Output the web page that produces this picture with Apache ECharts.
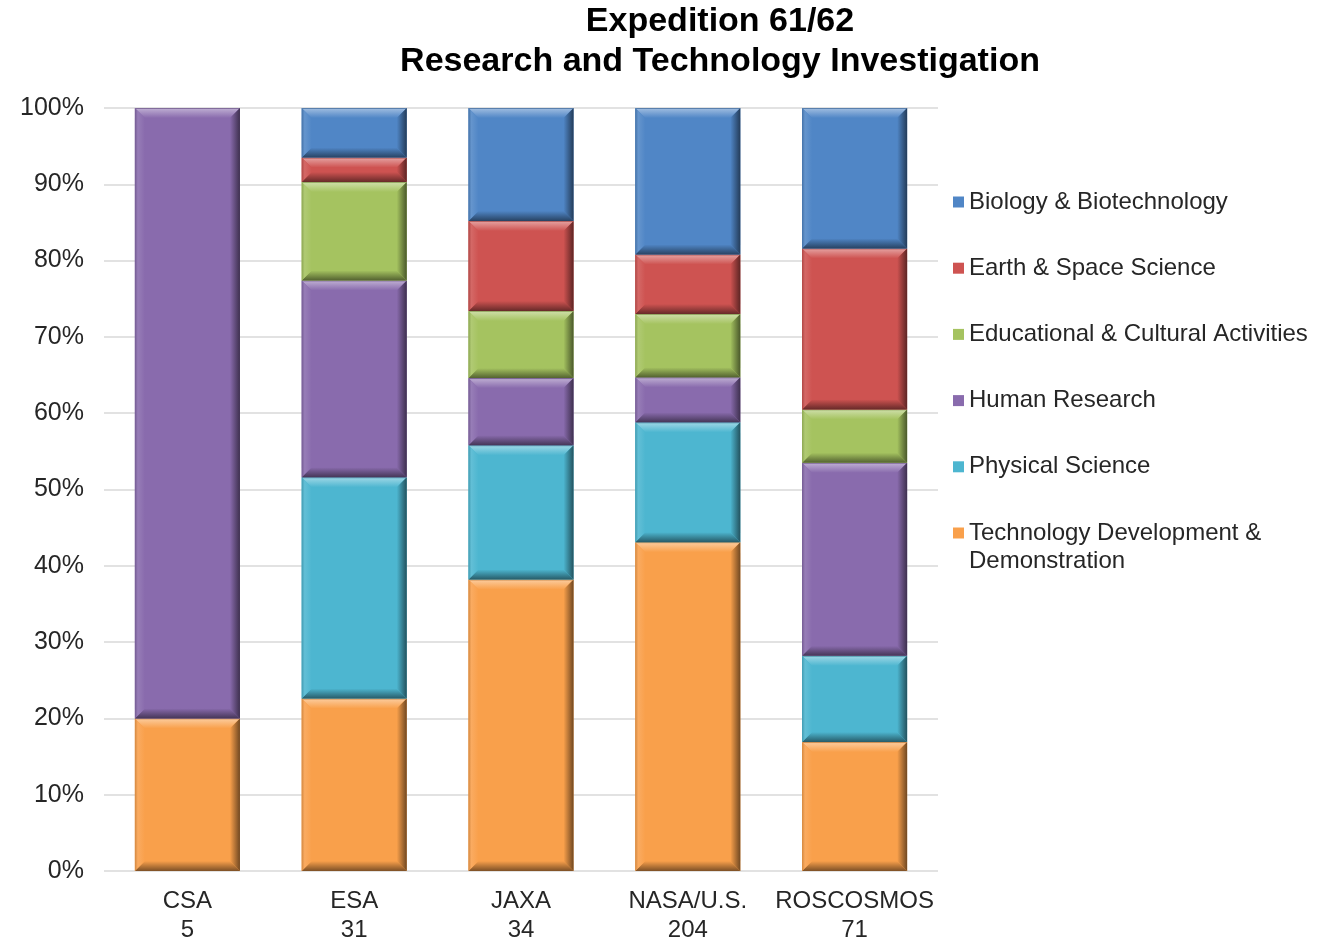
<!DOCTYPE html>
<html>
<head>
<meta charset="utf-8">
<script src="https://cdn.jsdelivr.net/npm/echarts@6/dist/echarts.min.js"></script>
<style>html,body{margin:0;padding:0;background:#fff}#c{width:1335px;height:942px}</style>
</head>
<body>
<div id="c"></div>
<script>
const categories = ["CSA", "ESA", "JAXA", "NASA/U.S.", "ROSCOSMOS"];
const counts = [5, 31, 34, 204, 71];
const yTicks = [0, 10, 20, 30, 40, 50, 60, 70, 80, 90, 100];

// percentage shares, bottom to top of each bar
const techDev    = [20.0, 22.6, 38.2, 43.1, 16.9];
const physical   = [0.0, 29.0, 17.6, 15.7, 11.3];
const human      = [80.0, 25.8, 8.8, 5.9, 25.3];
const educational= [0.0, 12.9, 8.8, 8.3, 7.0];
const earthSpace = [0.0, 3.2, 11.8, 7.8, 21.1];
const biology    = [0.0, 6.5, 14.8, 19.2, 18.4];

const seriesDefs = [
  {name: "Technology Development & Demonstration", data: techDev, color: "#f9a04b"},
  {name: "Physical Science", data: physical, color: "#4db6d0"},
  {name: "Human Research", data: human, color: "#896bad"},
  {name: "Educational & Cultural Activities", data: educational, color: "#a5c360"},
  {name: "Earth & Space Science", data: earthSpace, color: "#ce5351"},
  {name: "Biology & Biotechnology", data: biology, color: "#5086c6"}
];

function hexToRgb(h){h=h.replace('#','');return [parseInt(h.substr(0,2),16),parseInt(h.substr(2,2),16),parseInt(h.substr(4,2),16)];}
function mix(hex, target, t){
  const a=hexToRgb(hex), b=target==='w'?[255,255,255]:[0,0,0];
  const c=a.map((v,i)=>Math.round(v+(b[i]-v)*t));
  return 'rgb('+c.join(',')+')';
}

function renderItem(params, api){
  const ci = api.value(0), lo = api.value(1), hi = api.value(2);
  if (!(hi - lo > 0)) return null;
  const pTop = api.coord([ci, hi]);
  const pBot = api.coord([ci, lo]);
  const band = api.size([1, 0])[0];
  const w = band * 0.63;
  const x0 = pTop[0] - w / 2, x1 = x0 + w, y0 = pTop[1], y1 = pBot[1];
  const h = y1 - y0;
  const b = Math.min(10, h / 2.2, w / 2);
  const base = api.visual('color');
  const G = echarts.graphic.LinearGradient;
  return {
    type: 'group',
    children: [
      {type: 'rect', shape: {x: x0, y: y0, width: w, height: h}, style: {fill: base}},
      {type: 'polygon', shape: {points: [[x0, y0], [x1, y0], [x1 - b, y0 + b], [x0 + b, y0 + b]]},
        style: {fill: new G(0, 0, 0, 1, [{offset: 0, color: mix(base, 'b', 0.25)}, {offset: 0.15, color: mix(base, 'w', 0.4)}, {offset: 1, color: base}])}},
      {type: 'polygon', shape: {points: [[x0, y1], [x1, y1], [x1 - b, y1 - b], [x0 + b, y1 - b]]},
        style: {fill: new G(0, 0, 0, 1, [{offset: 0, color: base}, {offset: 1, color: mix(base, 'b', 0.5)}])}},
      {type: 'polygon', shape: {points: [[x1, y0], [x1, y1], [x1 - b, y1 - b], [x1 - b, y0 + b]]},
        style: {fill: new G(0, 0, 1, 0, [{offset: 0, color: base}, {offset: 1, color: mix(base, 'b', 0.55)}])}},
      {type: 'polygon', shape: {points: [[x0, y0], [x0, y1], [x0 + b, y1 - b], [x0 + b, y0 + b]]},
        style: {fill: new G(0, 0, 1, 0, [{offset: 0, color: mix(base, 'b', 0.15)}, {offset: 0.3, color: mix(base, 'w', 0.12)}, {offset: 1, color: base}])}}
    ]
  };
}

const series = seriesDefs.map((s, si) => ({
  name: s.name,
  type: 'custom',
  renderItem: renderItem,
  itemStyle: {color: s.color},
  encode: {x: 0, y: [1, 2]},
  data: categories.map((c, ci) => {
    let lo = 0;
    for (let k = 0; k < si; k++) lo += seriesDefs[k].data[ci];
    return [ci, lo, lo + s.data[ci]];
  })
}));

const FONT = "'Liberation Sans', Arial, sans-serif";
const TEXT = '#262626';
const legendData = seriesDefs.slice().reverse().map(s => s.name);

const chart = echarts.init(document.getElementById('c'));
chart.setOption({
  animation: false,
  backgroundColor: '#ffffff',
  title: {
    text: 'Expedition 61/62\nResearch and Technology Investigation',
    left: 720,
    textAlign: 'center',
    top: 2,
    padding: 0,
    textStyle: {fontFamily: FONT, fontWeight: 'bold', fontSize: 34, lineHeight: 40, color: '#000'}
  },
  legend: {
    orient: 'vertical',
    left: 953,
    top: 188,
    padding: 0,
    icon: 'rect',
    itemWidth: 11,
    itemHeight: 11,
    itemGap: 38.2,
    data: legendData,
    formatter: n => n === 'Technology Development & Demonstration' ? 'Technology Development &' : n,
    textStyle: {fontFamily: FONT, fontSize: 24, lineHeight: 28, color: TEXT}
  },
  graphic: [{
    type: 'text',
    left: 969,
    top: 547,
    style: {text: 'Demonstration', fontFamily: FONT, fontSize: 24, lineHeight: 28, fill: TEXT}
  }],
  grid: {left: 104, right: 397, top: 108, bottom: 71, containLabel: false, outerBoundsMode: 'none'},
  xAxis: {
    type: 'category',
    data: categories,
    axisLine: {show: false},
    axisTick: {show: false},
    axisLabel: {
      interval: 0,
      margin: 16,
      fontFamily: FONT, fontSize: 24, lineHeight: 29, color: TEXT,
      formatter: (v, i) => v + '\n' + counts[i]
    }
  },
  yAxis: {
    type: 'value',
    min: yTicks[0],
    max: yTicks[yTicks.length - 1],
    interval: yTicks[1] - yTicks[0],
    axisLine: {show: false},
    axisTick: {show: false},
    splitLine: {lineStyle: {color: '#d9d9d9', width: 1.5}},
    axisLabel: {margin: 20, fontFamily: FONT, fontSize: 25, color: TEXT, formatter: '{value}%'}
  },
  series: series
});
</script>
</body>
</html>
